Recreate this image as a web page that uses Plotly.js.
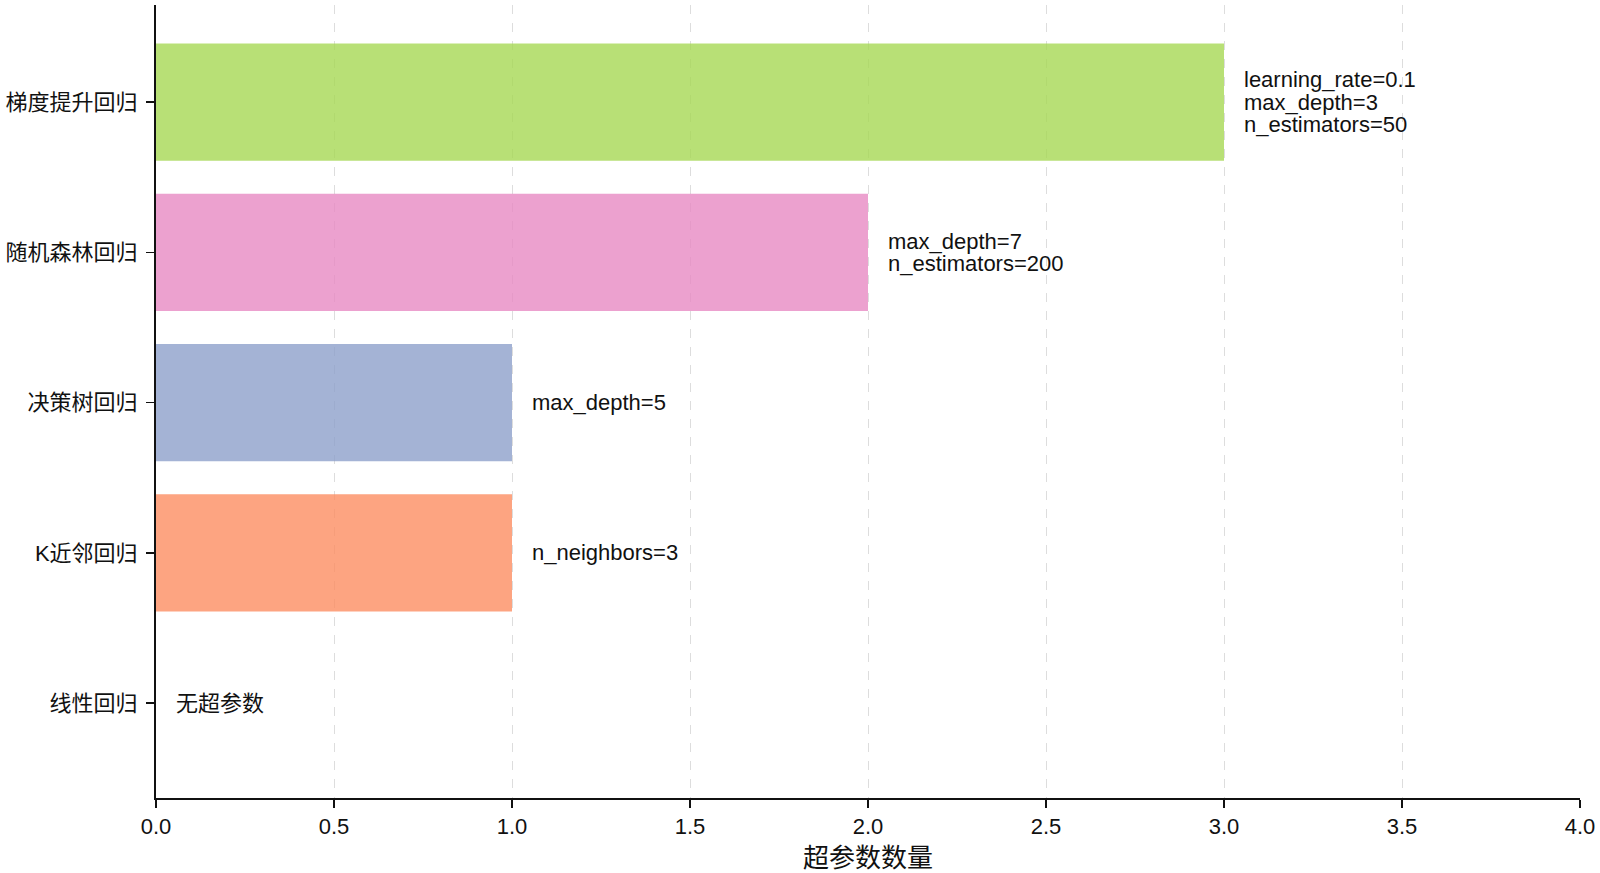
<!DOCTYPE html>
<html>
<head>
<meta charset="utf-8">
<script src="https://cdn.plot.ly/plotly-3.0.1.min.js"></script>
<style>html,body{margin:0;padding:0;background:#fff;}#chart{width:1600px;height:873px;}</style>
</head>
<body>
<div id="chart"></div>
<script>
// Data
const models = ["线性回归", "K近邻回归", "决策树回归", "随机森林回归", "梯度提升回归"];
const paramCounts = [0, 1, 1, 2, 3];
const paramLabels = [
  ["无超参数"],
  ["n_neighbors=3"],
  ["max_depth=5"],
  ["max_depth=7", "n_estimators=200"],
  ["learning_rate=0.1", "max_depth=3", "n_estimators=50"]
];
const barColors = ["#66c2a5", "#fc8d62", "#8da0cb", "#e78ac3", "#a6d854"];
const xTicks = [0, 0.5, 1, 1.5, 2, 2.5, 3, 3.5, 4];
const xTickText = ["0.0", "0.5", "1.0", "1.5", "2.0", "2.5", "3.0", "3.5", "4.0"];

const FONT = "'Liberation Sans', Arial, 'Noto Sans CJK SC', sans-serif";
const lineStep = 22.5;

const trace = {
  type: "bar",
  orientation: "h",
  x: paramCounts,
  y: models,
  width: 0.78,
  marker: {color: barColors, opacity: 0.8, line: {width: 0}},
  hoverinfo: "x+y",
  showlegend: false
};

const annotations = [];
models.forEach((m, i) => {
  const lines = paramLabels[i];
  const n = lines.length;
  lines.forEach((t, k) => {
    annotations.push({
      x: paramCounts[i] + 0.05,
      y: m,
      xref: "x", yref: "y",
      text: t,
      showarrow: false,
      xanchor: "left",
      yanchor: "middle",
      yshift: ((n - 1) / 2 - k) * lineStep,
      font: {family: FONT, size: 22, color: "#111"}
    });
  });
});

const layout = {
  width: 1600,
  height: 873,
  margin: {l: 156, r: 20, t: 5, b: 75},
  paper_bgcolor: "#fff",
  plot_bgcolor: "#fff",
  font: {family: FONT, size: 22, color: "#111"},
  bargap: 0.22,
  xaxis: {
    range: [0, 4],
    tickvals: xTicks,
    ticktext: xTickText,
    showgrid: true,
    gridcolor: "#dddddd",
    griddash: "dash",
    gridwidth: 1,
    zeroline: false,
    showline: true,
    linecolor: "#111",
    linewidth: 2,
    ticks: "outside",
    ticklen: 8,
    tickwidth: 1.5,
    tickcolor: "#111",
    tickfont: {family: FONT, size: 22, color: "#111"},
    title: {text: "超参数数量", font: {family: FONT, size: 26, color: "#111"}, standoff: 10},
    fixedrange: true
  },
  yaxis: {
    type: "category",
    categoryorder: "array",
    categoryarray: models,
    range: [-0.632, 4.646],
    showgrid: false,
    zeroline: false,
    showline: true,
    linecolor: "#111",
    linewidth: 2,
    ticks: "outside",
    ticklen: 8,
    tickwidth: 1.5,
    tickcolor: "#111",
    tickfont: {family: FONT, size: 22, color: "#111"},
    ticklabelstandoff: 4,
    fixedrange: true
  },
  annotations: annotations
};

Plotly.newPlot("chart", [trace], layout, {displayModeBar: false, staticPlot: true});
</script>
</body>
</html>
